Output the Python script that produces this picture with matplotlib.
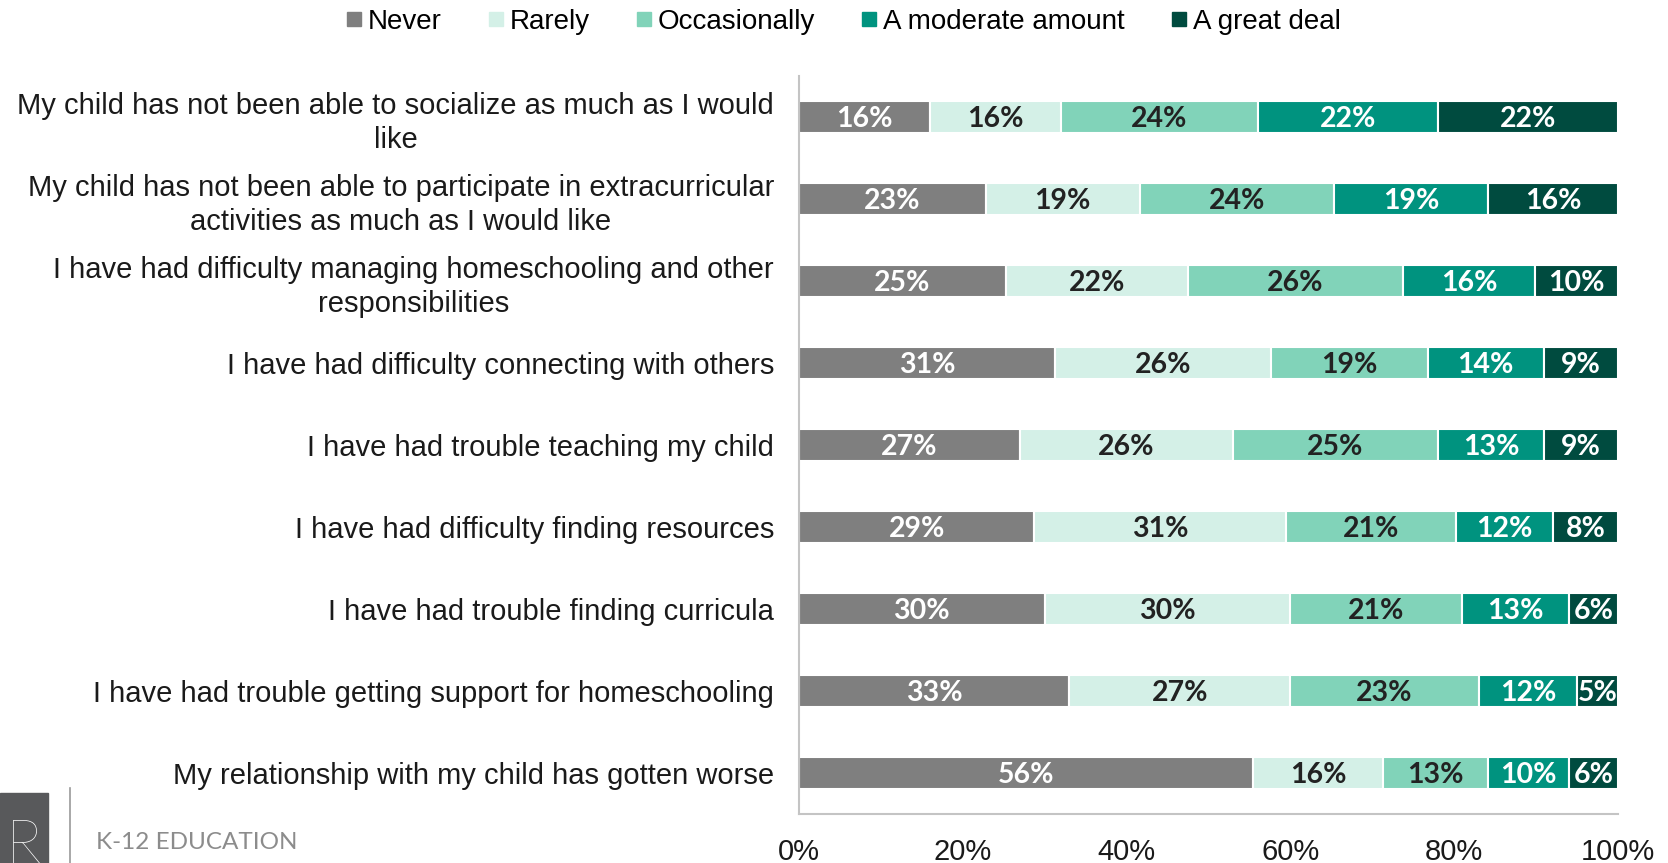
import numpy as np
import matplotlib.pyplot as plt
from matplotlib.patches import Rectangle
from matplotlib.lines import Line2D

# survey statements, top to bottom
statements = [
    "My child has not been able to socialize as much as I would\nlike",
    "My child has not been able to participate in extracurricular\nactivities as much as I would like",
    "I have had difficulty managing homeschooling and other\nresponsibilities",
    "I have had difficulty connecting with others",
    "I have had trouble teaching my child",
    "I have had difficulty finding resources",
    "I have had trouble finding curricula",
    "I have had trouble getting support for homeschooling",
    "My relationship with my child has gotten worse",
]
responses = ["Never", "Rarely", "Occasionally", "A moderate amount", "A great deal"]

never = [16, 23, 25, 31, 27, 29, 30, 33, 56]
rarely = [16, 19, 22, 26, 26, 31, 30, 27, 16]
occasionally = [24, 24, 26, 19, 25, 21, 21, 23, 13]
moderate = [22, 19, 16, 14, 13, 12, 13, 12, 10]
great_deal = [22, 16, 10, 9, 9, 8, 6, 5, 6]

colors = ["#7f7f7f", "#d4f0e7", "#81d3b9", "#00937f", "#004b3f"]
text_colors = ["white", "#222222", "#222222", "white", "white"]

vals = np.array([never, rarely, occasionally, moderate, great_deal], dtype=float)
# rows are rounded, so rescale each to fill 100%
widths = vals / vals.sum(axis=0) * 100

W, H = 1668, 863
fig = plt.figure(figsize=(W / 100, H / 100), dpi=100)
ax = fig.add_axes([799 / W, 1 - 814 / H, (1618 - 799) / W, (814 - 76) / H])

y = np.arange(len(statements))
left = np.zeros(len(statements))
for i, name in enumerate(responses):
    ax.barh(y, widths[i], left=left, height=0.39, color=colors[i],
            edgecolor="white", linewidth=1.5, label=name)
    for j in range(len(statements)):
        ax.text(left[j] + widths[i][j] / 2, y[j] + 0.02, f"{int(vals[i][j])}%",
                ha="center", va="center", fontsize=20.5, fontweight="bold",
                family="Lato", color=text_colors[i])
    left += widths[i]

ax.set_xlim(0, 100)
ax.set_ylim(len(statements) - 0.5, -0.5)
ax.set_yticks(y)
ax.set_yticklabels(statements, family="Liberation Sans", fontsize=21,
                   color="#1a1a1a", multialignment="center", linespacing=1.25)
ax.set_xticks(np.arange(0, 101, 20))
ax.set_xticklabels([f"{v}%" for v in range(0, 101, 20)],
                   family="Liberation Sans", fontsize=21, color="#1a1a1a")
ax.tick_params(axis="y", length=0, pad=18)
ax.tick_params(axis="x", length=0, pad=17)
for s in ["top", "right"]:
    ax.spines[s].set_visible(False)
for s in ["left", "bottom"]:
    ax.spines[s].set_color("#c4c4c4")
    ax.spines[s].set_linewidth(1.5)

handles = [Line2D([], [], marker="s", linestyle="none", markersize=10,
                  markerfacecolor=c, markeredgecolor=c) for c in colors]
fig.legend(handles, responses, loc="center", bbox_to_anchor=(841 / W, 1 - 22 / H),
           ncol=5, frameon=False, handletextpad=0.05, columnspacing=1.5,
           handlelength=0.9, prop={"family": "Liberation Sans", "size": 20})

# logo block in the bottom-left corner
fig.patches.append(Rectangle((0, 0), 48 / W, 70 / H, transform=fig.transFigure,
                             color="#58595b", zorder=3))
fig.text(24 / W, -12 / H, "R", ha="center", va="bottom", fontsize=44,
         family="Lato", fontweight="light", color="white", zorder=4)
fig.add_artist(Line2D([70 / W, 70 / W], [0, 75 / H], color="#9a9a9a", lw=1.2))
fig.text(96 / W, 21 / H, "K-12 EDUCATION", ha="left", va="center", fontsize=17.5,
         family="Lato", color="#8c8c8c")

fig.savefig("out.png", dpi=100)
